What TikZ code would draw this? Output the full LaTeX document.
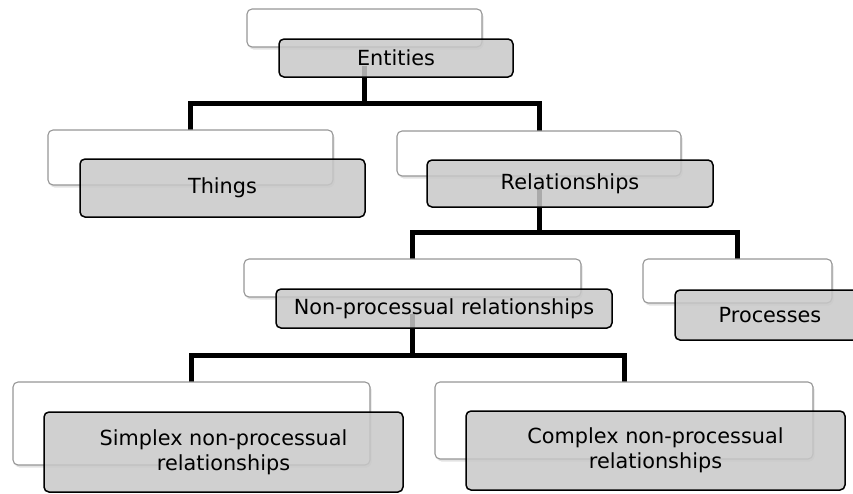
\documentclass[tikz,border=0pt]{standalone}
\usepackage{fontspec}
\setmainfont{DejaVu Sans}
\usetikzlibrary{shadows,backgrounds}

\definecolor{boxgray}{RGB}{200,200,200}
\definecolor{rimgray}{RGB}{150,150,150}

\tikzset{
  backbox/.style={draw=rimgray, line width=1.1pt, fill=white,
    rounded corners=5pt, inner sep=0pt, outer sep=0pt,
    drop shadow={shadow xshift=1.5pt, shadow yshift=-2.5pt, opacity=0.22}},
  labelbox/.style={draw=black, line width=1.5pt, fill=boxgray,
    fill opacity=0.85, text opacity=1, rounded corners=5pt,
    inner sep=0pt, outer sep=0pt, align=center,
    font=\fontsize{20.8}{25}\selectfont},
  conn/.style={line width=5pt, black, line join=miter},
}

\begin{document}
\begin{tikzpicture}[x=1pt, y=-1pt]
  \useasboundingbox (0,0) rectangle (853,493);
  \clip (0,0) rectangle (853,493);

  % top level
  \node[backbox, minimum width=235pt, minimum height=38pt] (wEnt) at (364.5,28) {};
  \node[labelbox, minimum width=234pt, minimum height=38pt] (gEnt) at (396,58) {Entities};

  % second level
  \node[backbox, minimum width=285pt, minimum height=55pt] (wThi) at (190.5,157.5) {};
  \node[labelbox, minimum width=285pt, minimum height=58pt] (gThi) at (222.5,188) {Things};

  \node[backbox, minimum width=284pt, minimum height=45pt] (wRel) at (539,153.5) {};
  \node[labelbox, minimum width=286pt, minimum height=47pt] (gRel) at (570,183.5) {Relationships};

  % third level
  \node[backbox, minimum width=337pt, minimum height=38pt] (wNon) at (412.5,278) {};
  \node[labelbox, minimum width=336pt, minimum height=39pt] (gNon) at (444,308.5) {Non-processual relationships};

  \node[backbox, minimum width=189pt, minimum height=44pt] (wPro) at (737.5,281) {};
  \node[labelbox, minimum width=190pt, minimum height=50pt] (gPro) at (770,315) {Processes};

  % fourth level
  \node[backbox, minimum width=357pt, minimum height=83pt] (wSim) at (191.5,423.5) {};
  \node[labelbox, minimum width=359pt, minimum height=80pt] (gSim) at (223.5,452) {Simplex non-processual\\relationships};

  \node[backbox, minimum width=378pt, minimum height=77pt] (wCom) at (624,420.5) {};
  \node[labelbox, minimum width=379pt, minimum height=79pt] (gCom) at (655.5,450.5) {Complex non-processual\\relationships};

  % bus heights of the tree connectors
  \coordinate (busA) at (0,103);
  \coordinate (busB) at (0,232.5);
  \coordinate (busC) at (0,355);

  \begin{scope}[on background layer]
    \draw[conn] (wEnt.south |- gEnt.base) -- (wEnt.south |- busA);
    \draw[conn] (wThi.north) -- (wThi.north |- busA) -| (wRel.north);

    \draw[conn] (wRel.south |- gRel.base) -- (wRel.south |- busB);
    \draw[conn] (wNon.north) -- (wNon.north |- busB) -| (wPro.north);

    \draw[conn] (wNon.south |- gNon.base) -- (wNon.south |- busC);
    \draw[conn] (wSim.north) -- (wSim.north |- busC) -| (wCom.north);
  \end{scope}
\end{tikzpicture}
\end{document}
